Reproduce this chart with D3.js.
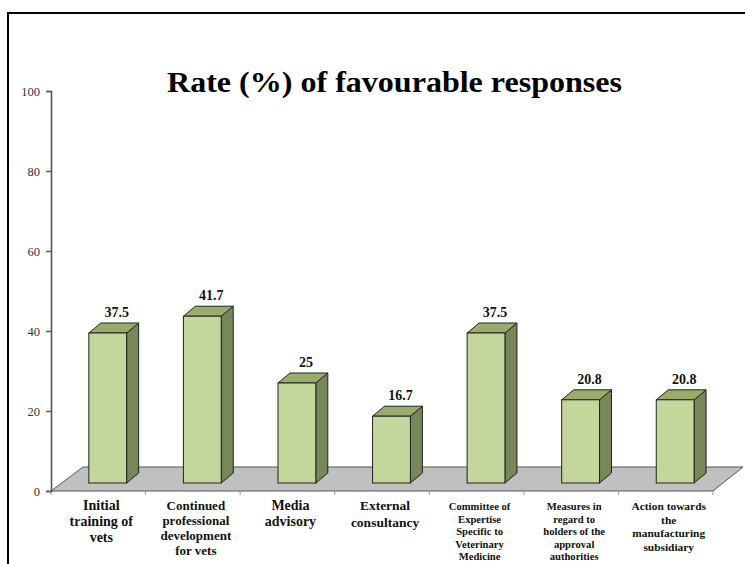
<!DOCTYPE html>
<html>
<head>
<meta charset="utf-8">
<script src="https://cdn.jsdelivr.net/npm/d3@7"></script>
<style>
  html, body { margin: 0; padding: 0; background: #fff; }
  svg { display: block; }
  text { font-family: "Liberation Serif", "Times New Roman", serif; }
</style>
</head>
<body>
<svg id="chart" width="745" height="564"></svg>
<script>
// Survey results: share of favourable responses per measure
const categories = [
  ["Initial", "training of", "vets"],
  ["Continued", "professional", "development", "for vets"],
  ["Media", "advisory"],
  ["External", "consultancy"],
  ["Committee of", "Expertise", "Specific to", "Veterinary", "Medicine"],
  ["Measures in", "regard to", "holders of the", "approval", "authorities"],
  ["Action towards", "the", "manufacturing", "subsidiary"]
];
const values = [37.5, 41.7, 25, 16.7, 37.5, 20.8, 20.8];
const valueLabels = ["37.5", "41.7", "25", "16.7", "37.5", "20.8", "20.8"];
const yTicks = [0, 20, 40, 60, 80, 100];
const titleText = "Rate (%) of favourable responses";

// label typography per category (size, line spacing)
const labelSizes = [14, 13, 14, 13.5, 10.6, 10.6, 11.4];
const labelLeading = [16, 15, 16, 16.5, 12.5, 12.5, 13.7];

const svg = d3.select("#chart");

// outer frame
svg.append("rect")
  .attr("x", 8).attr("y", 13)
  .attr("width", 800).attr("height", 600)
  .attr("fill", "none").attr("stroke", "#000").attr("stroke-width", 2);

const x = d3.scaleBand().domain(d3.range(values.length)).range([51, 713]).padding(0);
const y = d3.scaleLinear().domain([0, 100]).range([491, 91]);

// floor perspective offset and bar depth
const floorDx = 30, floorDy = -24;
const barDx = 12, barDy = -10;
const barLift = 8; // bars stand partway back on the floor

// floor
const x0 = x.range()[0], x1 = x.range()[1], y0 = y(0);
svg.append("path")
  .attr("d", `M${x0},${y0} L${x1},${y0} L${x1 + floorDx},${y0 + floorDy} L${x0 + floorDx + 2},${y0 + floorDy} Z`)
  .attr("fill", "#c0c0c0")
  .attr("stroke", "#555").attr("stroke-width", 1);

// category ticks on the front edge of the floor
svg.append("g").selectAll("line")
  .data(d3.range(values.length + 1))
  .join("line")
  .attr("x1", i => x0 + i * x.bandwidth())
  .attr("x2", i => x0 + i * x.bandwidth())
  .attr("y1", y0).attr("y2", y0 + 4)
  .attr("stroke", "#999").attr("stroke-width", 1);

// y axis
const yAxis = d3.axisLeft(y).tickValues(yTicks).tickSize(5).tickPadding(6).tickFormat(d3.format("d"));
const gy = svg.append("g").attr("transform", `translate(${x0},0)`).call(yAxis);
gy.select(".domain").attr("stroke", "#555").attr("stroke-width", 1.6);
gy.selectAll(".tick line").attr("stroke", "#555").attr("stroke-width", 1.4);
gy.selectAll(".tick text")
  .style("font-family", "'Liberation Serif', serif")
  .style("font-size", "12.5px")
  .attr("fill", "#333");

// bars
const bw = x.bandwidth() * 0.4;
const bars = svg.append("g").selectAll("g")
  .data(values)
  .join("g");

const bx = (d, i) => x(i) + x.bandwidth() * 0.4;
const byTop = d => y(d) - barLift;
const byBot = () => y(0) - barLift;

// side face
bars.append("path")
  .attr("d", (d, i) => {
    const l = bx(d, i) + bw, t = byTop(d), b = byBot();
    return `M${l},${b} L${l},${t} L${l + barDx},${t + barDy} L${l + barDx},${b + barDy} Z`;
  })
  .attr("fill", "#77875a").attr("stroke", "#222").attr("stroke-width", 1).attr("stroke-linejoin", "round");

// top face
bars.append("path")
  .attr("d", (d, i) => {
    const l = bx(d, i), t = byTop(d);
    return `M${l},${t} L${l + bw},${t} L${l + bw + barDx},${t + barDy} L${l + barDx},${t + barDy} Z`;
  })
  .attr("fill", "#9aab6c").attr("stroke", "#222").attr("stroke-width", 1).attr("stroke-linejoin", "round");

// front face
bars.append("rect")
  .attr("x", (d, i) => bx(d, i))
  .attr("y", d => byTop(d))
  .attr("width", bw)
  .attr("height", d => byBot() - byTop(d))
  .attr("fill", "#c4d79b").attr("stroke", "#222").attr("stroke-width", 1);

// value labels
bars.append("text")
  .attr("x", (d, i) => bx(d, i) + bw / 2 + 9)
  .attr("y", d => byTop(d) - 16)
  .attr("text-anchor", "middle")
  .attr("font-weight", "bold")
  .attr("font-size", 14)
  .attr("fill", "#111")
  .text((d, i) => valueLabels[i]);

// category labels
const cat = svg.append("g").selectAll("text")
  .data(categories)
  .join("text")
  .attr("text-anchor", "middle")
  .attr("font-weight", "bold")
  .attr("fill", "#111")
  .attr("font-size", (d, i) => labelSizes[i])
  .attr("transform", (d, i) => `translate(${x(i) + x.bandwidth() / 2 + 3},510)`);
cat.selectAll("tspan")
  .data((d, i) => d.map(s => ({ s, lead: labelLeading[i] })))
  .join("tspan")
  .attr("x", 0)
  .attr("y", (d, j) => j * d.lead)
  .text(d => d.s);

// title
svg.append("text")
  .attr("x", 394.5).attr("y", 92)
  .attr("text-anchor", "middle")
  .attr("font-weight", "bold")
  .attr("font-size", 29)
  .attr("textLength", 455)
  .attr("lengthAdjust", "spacingAndGlyphs")
  .attr("fill", "#000")
  .text(titleText);
</script>
</body>
</html>
